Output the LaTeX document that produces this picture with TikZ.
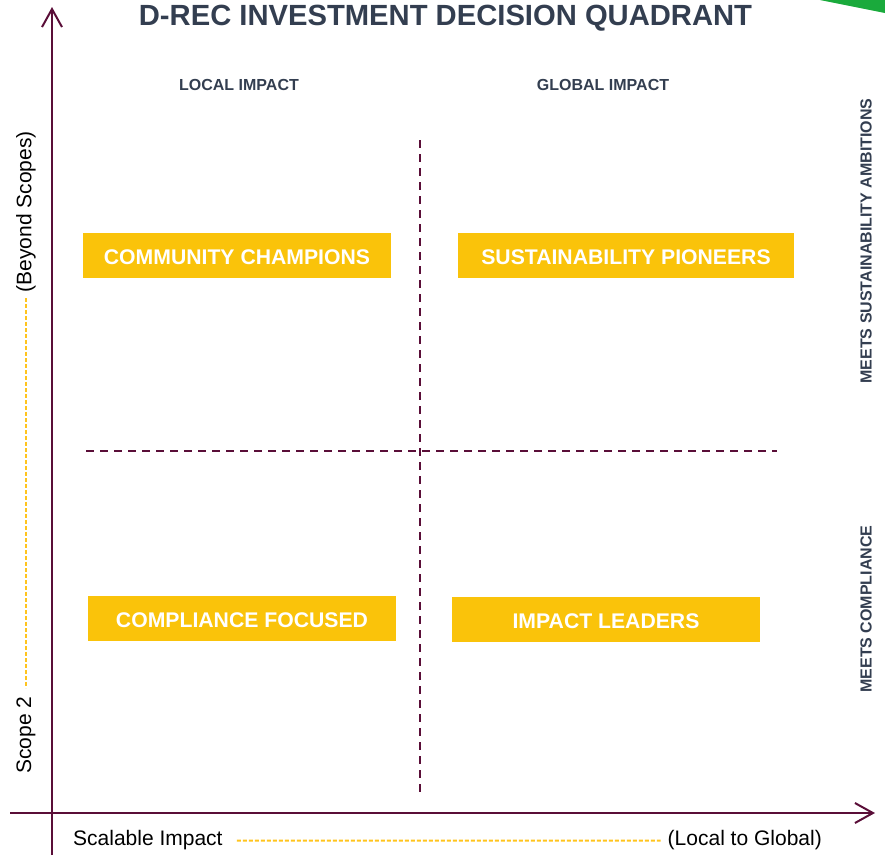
\documentclass[tikz,border=0pt]{standalone}
\usepackage{fontspec}
\setmainfont{Liberation Sans}
\usetikzlibrary{arrows.meta}
\definecolor{axiscol}{RGB}{90,14,56}
\definecolor{boxcol}{RGB}{250,195,10}
\definecolor{titlecol}{RGB}{51,62,80}
\definecolor{guidecol}{RGB}{255,196,30}
\definecolor{greencol}{RGB}{26,170,60}
\tikzset{
  axisline/.style={draw=axiscol, line width=2pt, -{Straight Barb[length=18pt,width=20pt,line width=2pt]}},
  quaddash/.style={draw=axiscol, line width=2.3pt, dash pattern=on 8pt off 6pt},
  guide/.style={draw=guidecol, line width=2pt, dash pattern=on 4pt off 2pt},
  quadbox/.style={fill=boxcol, text=white, inner sep=0pt, minimum height=45pt,
    text height=18pt, text depth=0pt,
    font=\fontsize{21.2}{25}\selectfont\bfseries},
  collabel/.style={text=titlecol, inner sep=0pt, font=\fontsize{16}{18}\selectfont\bfseries},
  sidelabel/.style={text=titlecol, inner sep=0pt, rotate=90, font=\fontsize{16}{18}\selectfont\bfseries},
  axislabel/.style={text=black, inner sep=0pt, font=\fontsize{21}{25}\selectfont},
}
\begin{document}
\begin{tikzpicture}[x=1pt,y=-1pt]
\useasboundingbox (0,0) rectangle (885,855);
% green corner
\fill[greencol] (820,0) -- (885,0) -- (885,13) -- cycle;
% title
\node[text=titlecol, inner sep=0pt, anchor=base, font=\fontsize{29.2}{34}\selectfont\bfseries] (title) at (445.5,25) {D-REC INVESTMENT DECISION QUADRANT};
% column labels
\node[collabel, anchor=base] (local) at (239,90.5) {LOCAL IMPACT};
\node[collabel, anchor=base] (global) at (603,90.5) {GLOBAL IMPACT};
% side labels
\node[sidelabel] (ambition) at (866,241) {MEETS SUSTAINABILITY AMBITIONS};
\node[sidelabel] (compliance) at (866,609) {MEETS COMPLIANCE};
% axes
\coordinate (ybot) at (52,855);
\coordinate (ytop) at (52,7);
\coordinate (xleft) at (10,813);
\coordinate (xright) at (875,813);
\draw[axisline] (ybot) -- (ytop);
\draw[axisline] (xleft) -- (xright);
% quadrant dividers
\coordinate (vtop) at (420,140);
\coordinate (vbot) at (420,792);
\coordinate (hleft) at (86,451);
\coordinate (hright) at (777,451);
\draw[quaddash] (vtop) -- (vbot);
\draw[quaddash] (hleft) -- (hright);
% boxes
\node[quadbox, minimum width=308pt] (cc) at (237,255.5) {COMMUNITY CHAMPIONS};
\node[quadbox, minimum width=336pt] (sp) at (626,255.5) {SUSTAINABILITY PIONEERS};
\node[quadbox, minimum width=308pt] (cf) at (242,618.5) {COMPLIANCE FOCUSED};
\node[quadbox, minimum width=308pt] (il) at (606,619) {IMPACT LEADERS};
% y axis label
\node[axislabel, rotate=90, anchor=east] (beyond) at (26,131) {(Beyond Scopes)};
\node[axislabel, rotate=90, anchor=west] (scope) at (26,774) {Scope 2};
\coordinate (ga) at (26,298);
\coordinate (gb) at (26,688);
\draw[guide] (ga) -- (gb);
% x axis label
\node[axislabel, anchor=base west] (scal) at (73,845) {Scalable Impact};
\node[axislabel, anchor=base east] (lg) at (822,845) {(Local to Global)};
\draw[guide] ([xshift=14pt,yshift=-1pt]scal.east) -- ([xshift=-7pt,yshift=-1pt]lg.west);
\end{tikzpicture}
\end{document}
